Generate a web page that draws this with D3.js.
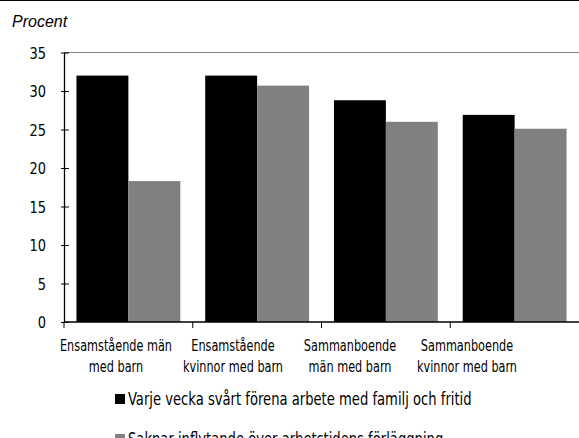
<!DOCTYPE html>
<html>
<head>
<meta charset="utf-8">
<script src="https://cdn.jsdelivr.net/npm/d3@7"></script>
<style>
  body { margin: 0; background: #fff; }
  svg text { font-family: "Liberation Sans Narrow", "DejaVu Sans Condensed", "Roboto Condensed", sans-serif; fill: #000; }
</style>
</head>
<body>
<svg id="chart" width="579" height="438"></svg>
<script>
const categories = [
  ["Ensamstående män", "med barn"],
  ["Ensamstående", "kvinnor med barn"],
  ["Sammanboende", "män med barn"],
  ["Sammanboende", "kvinnor med barn"]
];
const seriesNames = [
  "Varje vecka svårt förena arbete med familj och fritid",
  "Saknar inflytande över arbetstidens förläggning"
];
const weekly = [32.0, 32.0, 28.8, 26.9];
const noInfluence = [18.3, 30.7, 26.0, 25.1];
const yTicks = [0, 5, 10, 15, 20, 25, 30, 35];
const colors = ["#000000", "#808080"];

const svg = d3.select("#chart");
const W = 579, H = 438;
const margin = { top: 52.5, right: 0, left: 64, bottom: 116 };
const plotBottom = H - margin.bottom;
const squeeze = 0.76; // the source font is a narrow grotesque, fake it by scaling x

// top rule across the page
svg.append("line").attr("x1", 0).attr("x2", W).attr("y1", 0.5).attr("y2", 0.5)
  .attr("stroke", "#000").attr("stroke-width", 1.2);

svg.append("text").attr("x", 12).attr("y", 27)
  .style("font-family", "'Liberation Sans', Arial, sans-serif")
  .style("font-style", "italic").style("font-size", "16px")
  .text("Procent");

const groups = categories.map((c, i) => i);
const x0 = d3.scaleBand().domain(groups).range([margin.left, W]).padding(0);
const x1 = d3.scaleBand().domain([0, 1]).range([0, x0.bandwidth()]).paddingInner(0).paddingOuter(0.24);
const y = d3.scaleLinear().domain([0, 35]).range([plotBottom, margin.top]);

// plot frame top
svg.append("line").attr("x1", margin.left).attr("x2", W).attr("y1", margin.top).attr("y2", margin.top)
  .attr("stroke", "#808080").attr("stroke-width", 1.2);

const data = groups.map(i => ({ i, vals: [weekly[i], noInfluence[i]] }));
svg.append("g").selectAll("g").data(data).join("g")
  .attr("transform", d => `translate(${x0(d.i)},0)`)
  .selectAll("rect").data(d => d.vals.map((v, k) => ({ v, k }))).join("rect")
  .attr("x", d => x1(d.k))
  .attr("width", x1.bandwidth())
  .attr("y", d => y(d.v))
  .attr("height", d => y(0) - y(d.v))
  .attr("fill", d => colors[d.k]);

// y axis
const yAxis = svg.append("g").attr("transform", `translate(${margin.left},0)`)
  .call(d3.axisLeft(y).tickValues(yTicks).tickSize(0).tickPadding(20));
yAxis.select(".domain").attr("stroke", "#000").attr("stroke-width", 1.3);
yAxis.selectAll(".tick text").style("font-size", "16px").attr("dy", "0.35em")
  .attr("transform", "scale(0.9,1)");
yAxis.selectAll(".tick").append("line").attr("x1", -3).attr("x2", 5).attr("stroke", "#000");

// x axis line with ticks at group boundaries
const xAxis = svg.append("g");
xAxis.append("line").attr("x1", margin.left).attr("x2", W).attr("y1", plotBottom).attr("y2", plotBottom)
  .attr("stroke", "#000").attr("stroke-width", 1.3);
xAxis.selectAll("line.tick").data(groups).join("line").attr("class", "tick")
  .attr("x1", d => x0(d)).attr("x2", d => x0(d))
  .attr("y1", plotBottom).attr("y2", plotBottom + 6).attr("stroke", "#000");

// category labels sit on a slightly tighter pitch than the groups (as in the source)
const xl = d3.scaleBand().domain(groups).range([57.5, 525.5]);
const lab = svg.append("g").selectAll("text").data(groups).join("text")
  .attr("text-anchor", "middle").style("font-size", "16.5px")
  .attr("transform", d => `translate(${xl(d) + xl.bandwidth() / 2},0) scale(${squeeze},1)`);
lab.each(function (d) {
  const t = d3.select(this);
  categories[d].forEach((line, j) => {
    t.append("tspan").attr("x", 0).attr("y", 351 + j * 21).text(line);
  });
});

// legend
const leg = svg.append("g").selectAll("g").data(seriesNames).join("g")
  .attr("transform", (d, i) => `translate(115,${394 + i * 40})`);
leg.append("rect").attr("width", 10).attr("height", 10).attr("fill", (d, i) => colors[i]);
leg.append("text").attr("transform", "translate(13,11) scale(0.86,1)")
  .style("font-size", "17px").text(d => d);
</script>
</body>
</html>
